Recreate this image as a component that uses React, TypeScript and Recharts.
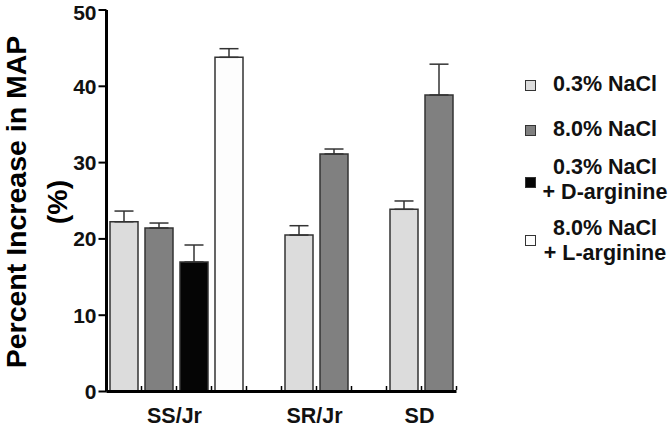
import React from 'react';
import { BarChart, Bar, XAxis, YAxis, Cell, ErrorBar, Legend, Label } from 'recharts';

const slots = ['a1', 'a2', 'a3', 'a4', 'gap1', 'b1', 'b2', 'gap2', 'c1', 'c2'];
const values: (number | null)[] = [22.25, 21.43, 16.97, 43.8, null, 20.5, 31.13, null, 23.88, 38.86];
const errorsUp: (number | null)[] = [1.4, 0.65, 2.23, 1.13, null, 1.23, 0.65, null, 1.09, 4.04];
const treatmentOfSlot: (number | null)[] = [0, 1, 2, 3, null, 0, 1, null, 0, 1];

const groupLabels = ['SS/Jr', 'SR/Jr', 'SD'];
const groupLabelSlots = ['a2', 'b1', 'c1'];
const yTicks = [0, 10, 20, 30, 40, 50];

const legendLines: string[][] = [
  ['0.3% NaCl'],
  ['8.0% NaCl'],
  ['0.3% NaCl', '+ D-arginine'],
  ['8.0% NaCl', '+ L-arginine'],
];
const treatmentColors = ['#dcdcdc', '#808080', '#050505', '#fdfdfd'];

const data = slots.map((s, i) => ({
  slot: s,
  value: values[i],
  err: errorsUp[i] == null ? null : [0, errorsUp[i] as number],
  t: treatmentOfSlot[i],
}));

const FONT = '"Liberation Sans", Arial, Helvetica, sans-serif';

const legendLayout = [
  { sq: 85, top: 72 },
  { sq: 130, top: 117 },
  { sq: 182, top: 155 },
  { sq: 240.5, top: 216 },
];

const LegendContent = () => (
  <div style={{ position: 'relative', width: 672, height: 427, fontFamily: FONT }}>
    {legendLines.map((lines, i) => (
      <React.Fragment key={i}>
        <div
          style={{
            position: 'absolute',
            left: 525,
            top: legendLayout[i].sq - 5.5,
            width: 9,
            height: 9,
            background: treatmentColors[i],
            border: '1px solid #333',
          }}
        />
        <div
          style={{
            position: 'absolute',
            left: 541,
            width: 128,
            top: legendLayout[i].top,
            textAlign: 'center',
            fontSize: 21.5,
            fontWeight: 'bold',
            lineHeight: '25px',
            color: '#111',
            whiteSpace: 'nowrap',
          }}
        >
          {lines.map((l, j) => (
            <div key={j}>{l}</div>
          ))}
        </div>
      </React.Fragment>
    ))}
  </div>
);

const XTick = (props: any) => {
  const { x, y, payload } = props;
  const half = typeof payload.offset === 'number' && payload.offset > 0 ? payload.offset : 17.5;
  const bx = x + half;
  const idx = groupLabelSlots.indexOf(payload.value);
  return (
    <g>
      <line x1={bx} x2={bx} y1={y - 1.5} y2={y - 5.5} stroke="#000" strokeWidth={1.5} />
      {idx >= 0 && (
        <text
          x={bx - 2}
          y={y + 31}
          textAnchor="middle"
          fontFamily={FONT}
          fontWeight="bold"
          fontSize={21.5}
          fill="#111"
        >
          {groupLabels[idx]}
        </text>
      )}
    </g>
  );
};

const YLabel = () => (
  <g>
    <text
      transform="translate(16,202) rotate(-90)"
      textAnchor="middle"
      dominantBaseline="central"
      fontFamily={FONT}
      fontWeight="bold"
      fontSize={28.5}
      fill="#000"
    >
      Percent Increase in MAP
    </text>
    <text
      transform="translate(57,202) rotate(-90)"
      textAnchor="middle"
      dominantBaseline="central"
      fontFamily={FONT}
      fontWeight="bold"
      fontSize={28.5}
      fill="#000"
    >
      (%)
    </text>
  </g>
);

export default function App() {
  return (
    <div style={{ position: 'absolute', left: 0, top: 0, background: '#fff' }}>
      <BarChart
        width={672}
        height={427}
        data={data}
        margin={{ top: 10, right: 215.5, left: 0, bottom: 0 }}
        barCategoryGap="10%"
      >
        <XAxis
          dataKey="slot"
          height={35.5}
          axisLine={{ stroke: '#000', strokeWidth: 3 }}
          tickLine={false}
          tickSize={0}
          tickMargin={0}
          tick={<XTick />}
          interval={0}
        />
        <YAxis
          domain={[0, 50]}
          ticks={yTicks}
          width={106.5}
          axisLine={{ stroke: '#000', strokeWidth: 3 }}
          tickLine={{ stroke: '#000', strokeWidth: 2 }}
          tickSize={8}
          tickMargin={2}
          tick={{ fontSize: 21, fontWeight: 'bold', fill: '#111', fontFamily: FONT }}
        >
          <Label content={<YLabel />} />
        </YAxis>
        <Legend
          layout="vertical"
          align="center"
          verticalAlign="middle"
          wrapperStyle={{ position: 'absolute', left: 0, top: 0, width: 672, height: 427, pointerEvents: 'none' }}
          content={<LegendContent />}
        />
        <Bar dataKey="value" isAnimationActive={false} stroke="#333" strokeWidth={1.5}>
          {data.map((d, i) => (
            <Cell key={i} fill={d.t == null ? 'none' : treatmentColors[d.t]} />
          ))}
          <ErrorBar dataKey="err" width={9.5} stroke="#333" strokeWidth={1.5} isAnimationActive={false} />
        </Bar>
      </BarChart>
    </div>
  );
}
